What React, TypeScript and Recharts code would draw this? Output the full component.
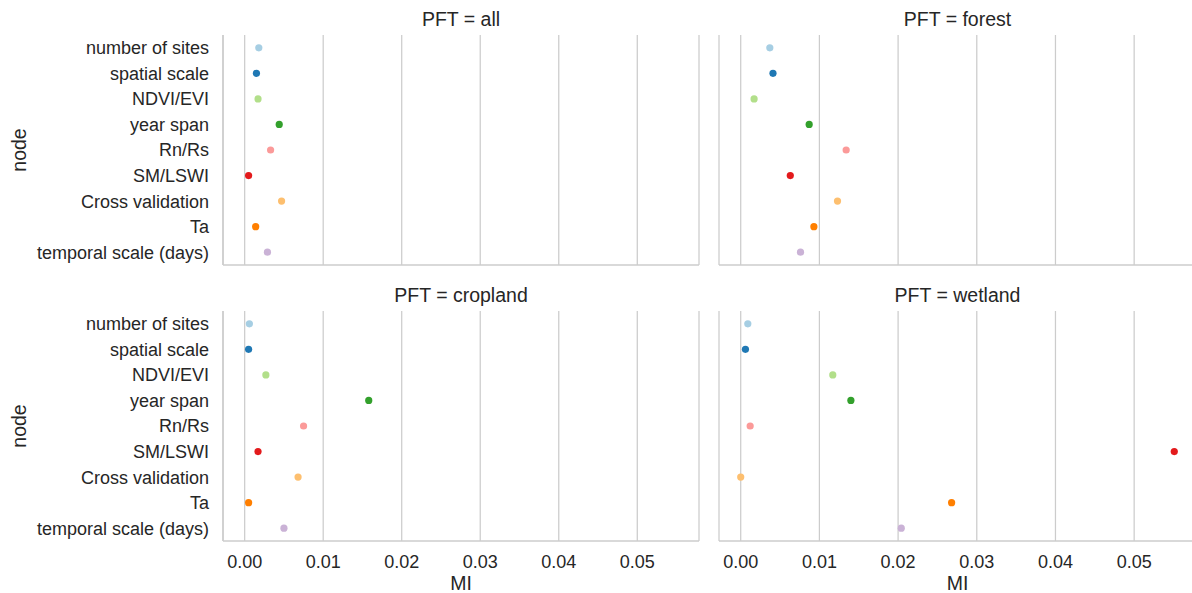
import React from 'react';
import { ScatterChart, Scatter, XAxis, YAxis, CartesianGrid, Cell } from 'recharts';

const NODES = [
  'number of sites',
  'spatial scale',
  'NDVI/EVI',
  'year span',
  'Rn/Rs',
  'SM/LSWI',
  'Cross validation',
  'Ta',
  'temporal scale (days)',
];

const MI_ALL = [0.0018, 0.0015, 0.0017, 0.0044, 0.0033, 0.0005, 0.0047, 0.0014, 0.0029];
const MI_FOREST = [0.0037, 0.0041, 0.0017, 0.0087, 0.0134, 0.0063, 0.0123, 0.0093, 0.0076];
const MI_CROPLAND = [0.0006, 0.0005, 0.0027, 0.0158, 0.0075, 0.0017, 0.0068, 0.0005, 0.005];
const MI_WETLAND = [0.0009, 0.0006, 0.0117, 0.014, 0.0012, 0.0551, 0.0, 0.0268, 0.0204];

const X_TICKS = [0, 0.01, 0.02, 0.03, 0.04, 0.05];

// seaborn "Paired"
const COLORS = ['#a6cee3', '#1f78b4', '#b2df8a', '#33a02c', '#fb9a99', '#e31a1c', '#fdbf6f', '#ff7f00', '#cab2d6'];

const FONT = '"Liberation Sans", Arial, sans-serif';
const TEXT = '#262626';
const GRID = '#cccccc';
const DOMAIN: [number, number] = [-0.00276, 0.05786];
const PLOT_TOP = 35;
const PLOT_H = 230;

const Dot = (props: any) => <circle cx={props.cx} cy={props.cy} r={3.6} fill={props.fill} />;
const NoTick = () => <g />;

const NodeLabel = (props: any) => {
  const vb = props.viewBox || {};
  const cy = vb.y != null && vb.height ? vb.y + vb.height / 2 : PLOT_TOP + PLOT_H / 2;
  return (
    <text x={25.5} y={cy} transform={`rotate(-90 25.5 ${cy})`} textAnchor="middle" fill={TEXT} fontSize={19.5} fontFamily={FONT}>
      node
    </text>
  );
};

interface PanelProps {
  title: string;
  values: number[];
  x: number;
  y: number;
  width: number;
  left: number;
  right: number;
  showY: boolean;
  showX: boolean;
}

const Panel: React.FC<PanelProps> = ({ title, values, x, y, width, left, right, showY, showX }) => {
  const data = NODES.map((node, i) => ({ node, mi: values[i] }));
  const xh = showX ? 52 : 25;
  const height = PLOT_TOP + PLOT_H + xh;
  const yw = showY ? 223 : 0;
  const plotLeft = left + yw;
  const plotW = width - right - plotLeft;
  const tickStyle = { fill: TEXT, fontSize: 18, fontFamily: FONT };
  return (
    <div style={{ position: 'absolute', left: x, top: y, width, height }}>
      <ScatterChart width={width} height={height} margin={{ top: PLOT_TOP, right, bottom: 0, left }}>
        <CartesianGrid horizontal={false} stroke={GRID} strokeWidth={1.25} />
        <XAxis
          type="number"
          dataKey="mi"
          domain={DOMAIN}
          ticks={X_TICKS}
          allowDataOverflow
          tickFormatter={(v: number) => v.toFixed(2)}
          tick={showX ? tickStyle : NoTick}
          tickLine={false}
          tickSize={6}
          tickMargin={8}
          axisLine={{ stroke: GRID, strokeWidth: 1.5 }}
          height={xh}
          label={
            showX
              ? { value: 'MI', position: 'insideBottom', offset: 3, fill: TEXT, fontSize: 19.5, fontFamily: FONT }
              : undefined
          }
        />
        <YAxis
          type="category"
          dataKey="node"
          reversed
          width={yw}
          tick={showY ? tickStyle : NoTick}
          tickLine={false}
          tickSize={6}
          tickMargin={8}
          axisLine={{ stroke: GRID, strokeWidth: 1.5 }}
          interval={0}
          label={showY ? { content: <NodeLabel /> } : undefined}
        />
        <Scatter data={data} isAnimationActive={false} shape={Dot}>
          {data.map((d, i) => (
            <Cell key={d.node} fill={COLORS[i]} />
          ))}
        </Scatter>
      </ScatterChart>
      <div
        style={{
          position: 'absolute',
          left: plotLeft,
          width: plotW,
          top: 10,
          textAlign: 'center',
          fontFamily: FONT,
          fontSize: 19.5,
          lineHeight: '19.5px',
          color: TEXT,
          whiteSpace: 'nowrap',
        }}
      >
        {title}
      </div>
    </div>
  );
};

export default function App() {
  return (
    <div style={{ position: 'fixed', left: 0, top: 0, width: 1192, height: 593, overflow: 'hidden', background: '#fff' }}>
      <Panel title="PFT = all" values={MI_ALL} x={0} y={0} width={711} left={0} right={12} showY showX={false} />
      <Panel title="PFT = forest" values={MI_FOREST} x={699} y={0} width={497} left={20} right={0} showY={false} showX={false} />
      <Panel title="PFT = cropland" values={MI_CROPLAND} x={0} y={276} width={711} left={0} right={12} showY showX />
      <Panel title="PFT = wetland" values={MI_WETLAND} x={699} y={276} width={497} left={20} right={0} showY={false} showX />
    </div>
  );
}
